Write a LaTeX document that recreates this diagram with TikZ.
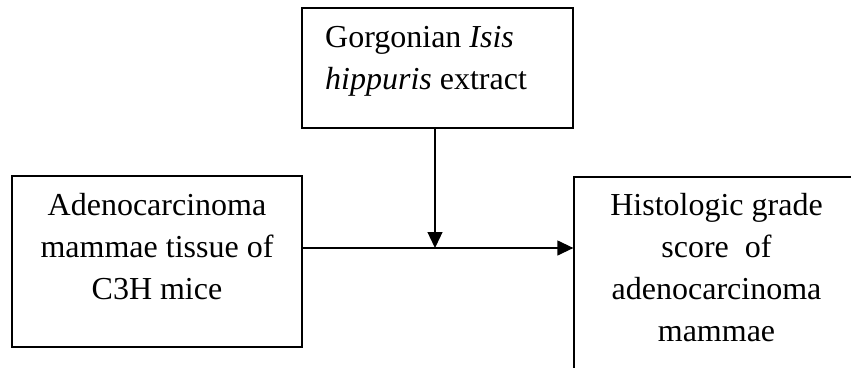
\documentclass[tikz,border=0pt]{standalone}
\usepackage{fontspec}
\setmainfont{Liberation Serif}
\usetikzlibrary{arrows.meta}
\begin{document}
\begin{tikzpicture}[x=1pt,y=-1pt,
  box/.style={draw, line width=1.3pt, inner sep=0pt},
  lbl/.style={inner sep=0pt, anchor=base, font=\fontsize{32}{42}\selectfont},
  conn/.style={line width=1.3pt, -{Triangle[length=16pt,width=15pt]}}]
\useasboundingbox (0,0) rectangle (851,367);
\clip (0,0) rectangle (851,367);
\node[box, minimum width=271pt, minimum height=120pt] (top) at (437.5,68) {};
\node[box, minimum width=290pt, minimum height=171pt] (left) at (157,261.5) {};
\node[box, minimum width=285pt, minimum height=195pt] (right) at (716.5,274.5) {};
\node[lbl, anchor=base west] (toptext) at (325,47)
  {\parbox[t]{230pt}{\raggedright Gorgonian \textit{Isis}\\ \textit{hippuris} extract}};
\node[lbl] (lefttext) at (157,215)
  {\parbox[t]{280pt}{\centering Adenocarcinoma\\ mammae tissue of\\ C3H mice}};
\node[lbl] (righttext) at (716.5,215)
  {\parbox[t]{280pt}{\centering Histologic grade\\ score~ of\\ adenocarcinoma\\ mammae}};
\coordinate (j) at (435,248);
\draw[conn] (left.east |- j) -- (right.west |- j);
\draw[conn] (top.south -| j) -- (j);
\end{tikzpicture}
\end{document}
